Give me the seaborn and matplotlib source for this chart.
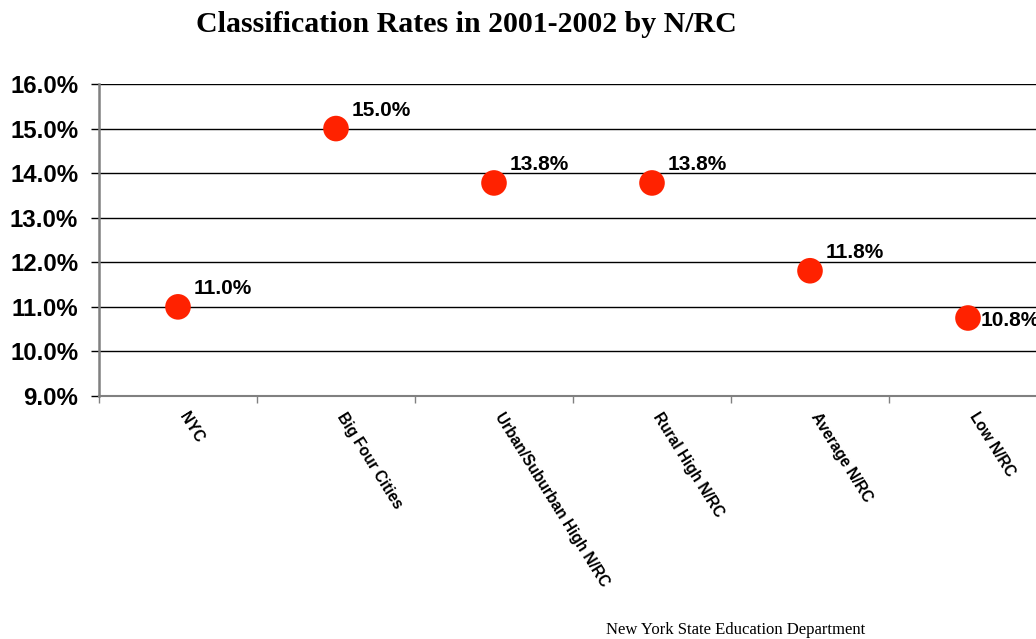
import numpy as np
import pandas as pd
import matplotlib
matplotlib.use("Agg")
import matplotlib.pyplot as plt
import matplotlib.transforms as mtransforms
import seaborn as sns

# Datos
grupos = ['NYC', 'Big Four Cities', 'Urban/Suburban High N/RC',
          'Rural High N/RC', 'Average N/RC', 'Low N/RC']
tasas = [11.0, 15.0, 13.78, 13.78, 11.81, 10.75]
etiquetas = ['11.0%', '15.0%', '13.8%', '13.8%', '11.8%', '10.8%']
y_ticks = [9, 10, 11, 12, 13, 14, 15, 16]

df = pd.DataFrame({'Grupo': grupos, 'Tasa': tasas})

sns.set_style('white')
plt.rcParams['font.family'] = ['Liberation Sans', 'DejaVu Sans']
plt.rcParams['text.color'] = 'black'
plt.rcParams['xtick.color'] = 'black'
plt.rcParams['ytick.color'] = 'black'
plt.rcParams['xtick.labelcolor'] = 'black'
plt.rcParams['ytick.labelcolor'] = 'black'

fig = plt.figure(figsize=(10.36, 6.39), dpi=100)
W, H = 1036, 639
ax = fig.add_axes([99 / W, 1 - 396 / H, 948 / W, 312 / H])

ax.set_axisbelow(True)
for v in y_ticks:
    ax.axhline(v, color='black', linewidth=1.0, zorder=0)

sns.scatterplot(data=df, x='Grupo', y='Tasa', ax=ax, s=340, color='#FF2200',
                edgecolor='none', zorder=3, clip_on=False, legend=False)

# Etiquetas de datos (la última queda cortada en el borde, como en el original)
for i, (v, t) in enumerate(zip(tasas, etiquetas)):
    if i == len(tasas) - 1:
        ax.annotate(t, (i, v), xytext=(9, -2), textcoords='offset points',
                    ha='left', va='center', fontsize=15, fontweight='bold',
                    color='black', annotation_clip=False)
    else:
        ax.annotate(t, (i, v), xytext=(11, 13), textcoords='offset points',
                    ha='left', va='center', fontsize=15, fontweight='bold',
                    color='black', annotation_clip=False)

ax.set_xlim(-0.5, 5.5)
ax.set_ylim(9, 16)
ax.set_yticks(y_ticks)
ax.set_yticklabels([f'{v:.1f}%' for v in y_ticks], fontsize=17.3, fontweight='bold')
ax.tick_params(axis='y', direction='out', length=6, width=1, color='black', pad=9, left=True)

ax.set_xticks(range(len(grupos)))
ax.set_xticklabels(grupos, rotation=-58, ha='left', va='top', rotation_mode='anchor',
                   fontsize=11.2, fontweight='bold')
ax.tick_params(axis='x', which='major', length=0, pad=10, bottom=True)
desplaza = mtransforms.ScaledTranslation(8 / 72, 0, fig.dpi_scale_trans)
for lab in ax.get_xticklabels():
    lab.set_transform(lab.get_transform() + desplaza)
ax.set_xticks(np.arange(-0.5, 6.0, 1.0), minor=True)
ax.tick_params(axis='x', which='minor', direction='out', length=5, width=1,
               color='#808080', bottom=True)

ax.set_xlabel('')
ax.set_ylabel('')
for lado in ['top', 'right']:
    ax.spines[lado].set_visible(False)
ax.spines['left'].set_color('#808080')
ax.spines['left'].set_linewidth(1.8)
ax.spines['bottom'].set_color('#808080')
ax.spines['bottom'].set_linewidth(1.5)

fig.text(466 / W, 1 - 24 / H, 'Classification Rates in 2001-2002 by N/RC',
         ha='center', va='center', fontsize=21.5, fontweight='bold',
         family=['Liberation Serif', 'DejaVu Serif'])
fig.text(736 / W, 1 - 630 / H, 'New York State Education Department',
         ha='center', va='center', fontsize=12,
         family=['Liberation Serif', 'DejaVu Serif'])

fig.savefig('out.png', dpi=100, facecolor='white')
